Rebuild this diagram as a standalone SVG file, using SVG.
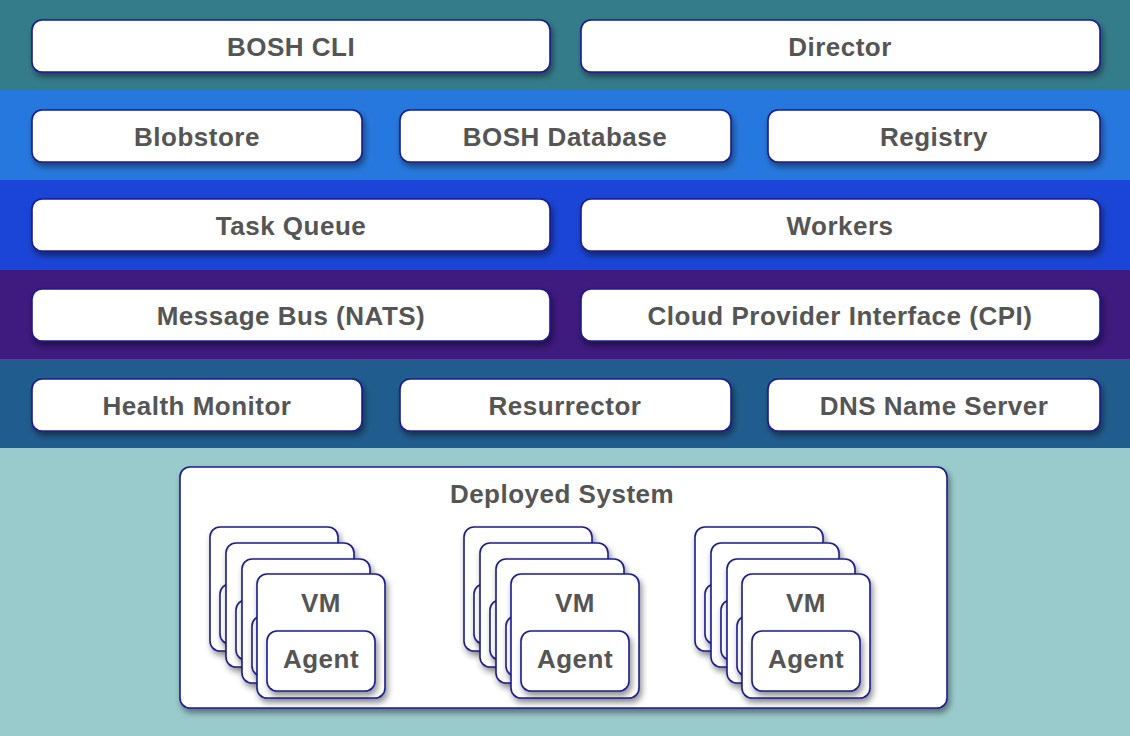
<svg xmlns="http://www.w3.org/2000/svg" width="1130" height="736" viewBox="0 0 1130 736">
<defs>
<filter id="sh" x="-10%" y="-20%" width="130%" height="150%">
<feDropShadow dx="2" dy="4" stdDeviation="3" flood-color="#000" flood-opacity="0.45"/>
</filter>
<g id="vmcard">
<rect x="0" y="0" width="128" height="124" rx="10" class="box" filter="url(#sh)"/>
<text x="64" y="38" class="lbl">VM</text>
<rect x="10" y="57" width="108" height="60" rx="10" class="box" filter="url(#sh)"/>
<text x="64" y="94" class="lbl">Agent</text>
</g>
<g id="vmstack">
<use href="#vmcard" x="0" y="0"/>
<use href="#vmcard" x="16" y="16"/>
<use href="#vmcard" x="32" y="32"/>
<use href="#vmcard" x="47" y="47"/>
</g>
</defs>
<style>
.box{fill:#fff;stroke:#1c1c8c;stroke-width:1.6}
.lbl{font-family:"Liberation Sans",Arial,sans-serif;font-weight:bold;font-size:26px;fill:#555;text-anchor:middle;letter-spacing:0.5px}
</style>
<g id="bands">
<rect x="0" y="0" width="1130" height="90" fill="#357c8b"/>
<rect x="0" y="90" width="1130" height="90" fill="#2778de"/>
<rect x="0" y="180" width="1130" height="90" fill="#1b45d6"/>
<rect x="0" y="270" width="1130" height="89" fill="#3f1a7f"/>
<rect x="0" y="359" width="1130" height="89" fill="#205d8e"/>
<rect x="0" y="448" width="1130" height="288" fill="#9acbcc"/>
</g>
<g id="bosh-cli"><rect x="32" y="20" width="518" height="52" rx="10" class="box" filter="url(#sh)"/><text x="291" y="56" class="lbl">BOSH CLI</text></g>
<g id="director"><rect x="581" y="20" width="519" height="52" rx="10" class="box" filter="url(#sh)"/><text x="840" y="56" class="lbl">Director</text></g>
<g id="blobstore"><rect x="32" y="110" width="330" height="52" rx="10" class="box" filter="url(#sh)"/><text x="197" y="146" class="lbl">Blobstore</text></g>
<g id="bosh-database"><rect x="400" y="110" width="331" height="52" rx="10" class="box" filter="url(#sh)"/><text x="565" y="146" class="lbl">BOSH Database</text></g>
<g id="registry"><rect x="768" y="110" width="332" height="52" rx="10" class="box" filter="url(#sh)"/><text x="934" y="146" class="lbl">Registry</text></g>
<g id="task-queue"><rect x="32" y="199" width="518" height="52" rx="10" class="box" filter="url(#sh)"/><text x="291" y="235" class="lbl">Task Queue</text></g>
<g id="workers"><rect x="581" y="199" width="519" height="52" rx="10" class="box" filter="url(#sh)"/><text x="840" y="235" class="lbl">Workers</text></g>
<g id="message-bus"><rect x="32" y="289" width="518" height="52" rx="10" class="box" filter="url(#sh)"/><text x="291" y="325" class="lbl">Message Bus (NATS)</text></g>
<g id="cpi"><rect x="581" y="289" width="519" height="52" rx="10" class="box" filter="url(#sh)"/><text x="840" y="325" class="lbl">Cloud Provider Interface (CPI)</text></g>
<g id="health-monitor"><rect x="32" y="379" width="330" height="52" rx="10" class="box" filter="url(#sh)"/><text x="197" y="415" class="lbl">Health Monitor</text></g>
<g id="resurrector"><rect x="400" y="379" width="331" height="52" rx="10" class="box" filter="url(#sh)"/><text x="565" y="415" class="lbl">Resurrector</text></g>
<g id="dns-name-server"><rect x="768" y="379" width="332" height="52" rx="10" class="box" filter="url(#sh)"/><text x="934" y="415" class="lbl">DNS Name Server</text></g>
<g id="deployed-system"><rect x="180" y="467" width="767" height="241" rx="10" class="box" filter="url(#sh)"/><text x="562" y="503" class="lbl">Deployed System</text></g>
<g id="vm-stack-1"><use href="#vmstack" x="210" y="527"/></g>
<g id="vm-stack-2"><use href="#vmstack" x="464" y="527"/></g>
<g id="vm-stack-3"><use href="#vmstack" x="695" y="527"/></g>
<g id="connectors"/>
</svg>
